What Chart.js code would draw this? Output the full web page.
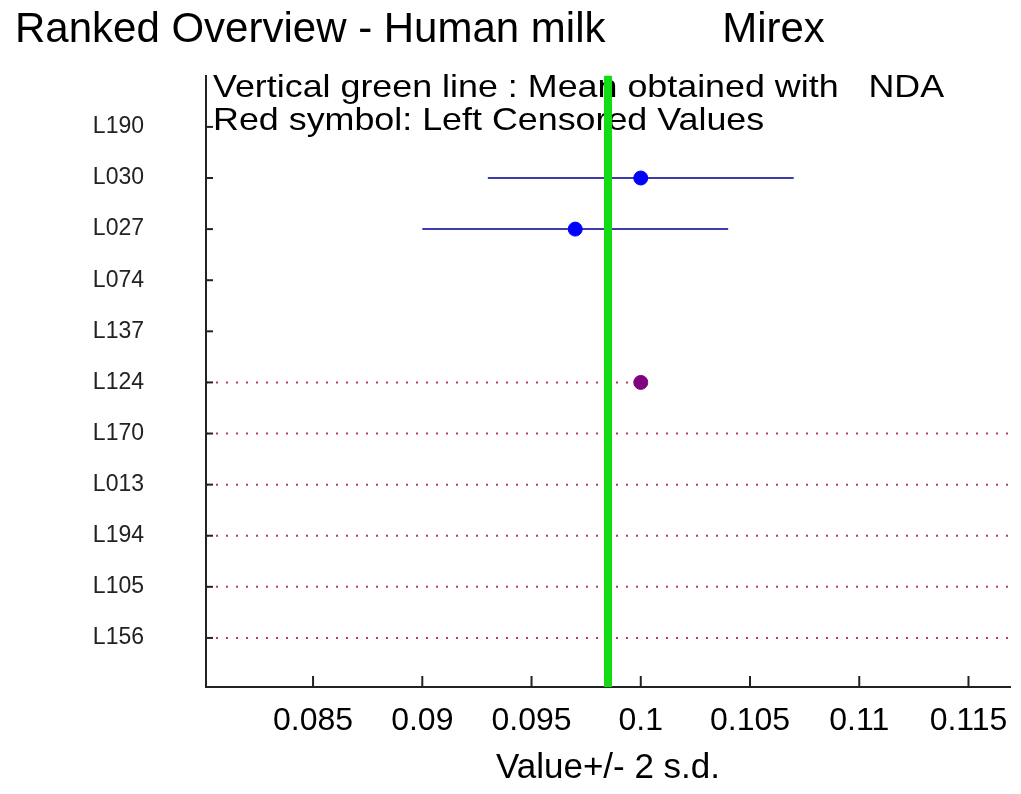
<!DOCTYPE html>
<html><head><meta charset="utf-8">
<script src="https://cdn.jsdelivr.net/npm/chart.js@4"></script>
<style>html,body{margin:0;padding:0;background:#fff}#wrap{width:1021px;height:794px}</style>
</head><body><div id="wrap"><canvas id="c" width="1021" height="794"></canvas></div>
<script>
const labs = ['L190','L030','L027','L074','L137','L124','L170','L013','L194','L105','L156'];
const values = [null, 0.1, 0.097, null, null, null, null, null, null, null, null];
const lower  = [null, 0.093, 0.090, null, null, null, null, null, null, null, null];
const upper  = [null, 0.107, 0.104, null, null, null, null, null, null, null, null];
const censored = [null, null, null, null, null, 0.1, 0.12, 0.12, 0.12, 0.12, 0.12];
const meanNDA = 0.0985;
const xTicks = [0.085, 0.09, 0.095, 0.1, 0.105, 0.11, 0.115];
const xMin = 0.0801, xMax = 0.1169;
const yMin = 0, yMax = 11.96;

const FONT = "'Liberation Sans', Arial, sans-serif";
const datasets = [];
datasets.push({type:'scatter', order:0,
  data: values.map((v,i)=> v==null?null:{x:v,y:i+1}).filter(Boolean),
  backgroundColor:'#0000ff', borderColor:'#0000ff', pointRadius:7, pointHoverRadius:7});
datasets.push({type:'scatter', order:0,
  data: censored.map((v,i)=> v==null?null:{x:v,y:i+1}).filter(Boolean),
  backgroundColor:'#800080', borderColor:'#800080', pointRadius:7, pointHoverRadius:7});
datasets.push({type:'line', order:1, data:[{x:meanNDA,y:yMin},{x:meanNDA,y:yMax}],
  borderColor:'#14dc14', borderWidth:8, pointRadius:0, clip:false});
labs.forEach((l,i)=>{
  if (lower[i]!=null) datasets.push({type:'line', order:2,
    data:[{x:lower[i],y:i+1},{x:upper[i],y:i+1}], borderColor:'#3c3caa', borderWidth:2, pointRadius:0});
});
labs.forEach((l,i)=>{
  if (censored[i]!=null) datasets.push({type:'line', order:3,
    data:[{x:xMin,y:i+1},{x:censored[i],y:i+1}], borderColor:'#b84050', borderWidth:2,
    borderDash:[2,8], pointRadius:0});
});

const notes = ['Vertical green line : Mean obtained with   NDA', 'Red symbol: Left Censored Values'];

const extras = {
  id:'extras',
  afterDatasetsDraw(chart){
    const {ctx, chartArea:a, scales:{x,y}} = chart;
    ctx.save();
    ctx.strokeStyle='#222'; ctx.lineWidth=2;
    xTicks.forEach(v=>{const px=x.getPixelForValue(v); ctx.beginPath(); ctx.moveTo(px,a.bottom); ctx.lineTo(px,a.bottom-11); ctx.stroke();});
    labs.forEach((l,i)=>{const py=y.getPixelForValue(i+1); ctx.beginPath(); ctx.moveTo(a.left,py); ctx.lineTo(a.left+7,py); ctx.stroke();});
    ctx.restore();
  },
  beforeDatasetsDraw(chart){
    const {ctx, chartArea:a} = chart;
    ctx.save();
    ctx.fillStyle='#000'; ctx.font='32px '+FONT; ctx.textBaseline='alphabetic';
    [[notes[0],97],[notes[1],130]].forEach(([t,by])=>{
      ctx.save(); ctx.translate(a.left+7, by); ctx.scale(1.12,1); ctx.fillText(t,0,0); ctx.restore();
    });
    ctx.restore();
  }
};

new Chart(document.getElementById('c'), {
  data:{datasets},
  options:{
    responsive:false, animation:false, events:[],
    layout:{padding:{left:15,right:11,top:0,bottom:0}},
    plugins:{
      legend:{display:false}, tooltip:{enabled:false},
      title:{display:true, align:'start', text:'Ranked Overview - Human milk          Mirex',
        color:'#000', font:{family:FONT, size:42, weight:'normal', lineHeight:1}, padding:{top:6,bottom:24}}
    },
    scales:{
      x:{type:'linear', min:xMin, max:xMax,
        afterBuildTicks(s){ s.ticks = xTicks.map(v=>({value:v})); },
        afterFit(s){ s.height = 107; s.paddingRight = 0; s.paddingLeft = 0; },
        grid:{display:false, drawTicks:false},
        border:{display:true, color:'#222', width:2},
        ticks:{color:'#000', padding:15, font:{family:FONT,size:32}, callback:v=>String(+v.toFixed(4))},
        title:{display:true, text:'Value+/- 2 s.d.', color:'#000', font:{family:FONT,size:35}, padding:{top:4,bottom:5}}
      },
      y:{type:'linear', reverse:true, min:yMin, max:yMax,
        afterBuildTicks(s){ s.ticks = labs.map((l,i)=>({value:i+1})); },
        afterFit(s){ s.width = 191; },
        grid:{display:false, drawTicks:false},
        border:{display:true, color:'#222', width:2},
        ticks:{color:'#222', padding:62, font:{family:FONT,size:23}, callback:v=>labs[v-1]}
      }
    }
  },
  plugins:[extras]
});
</script></body></html>
